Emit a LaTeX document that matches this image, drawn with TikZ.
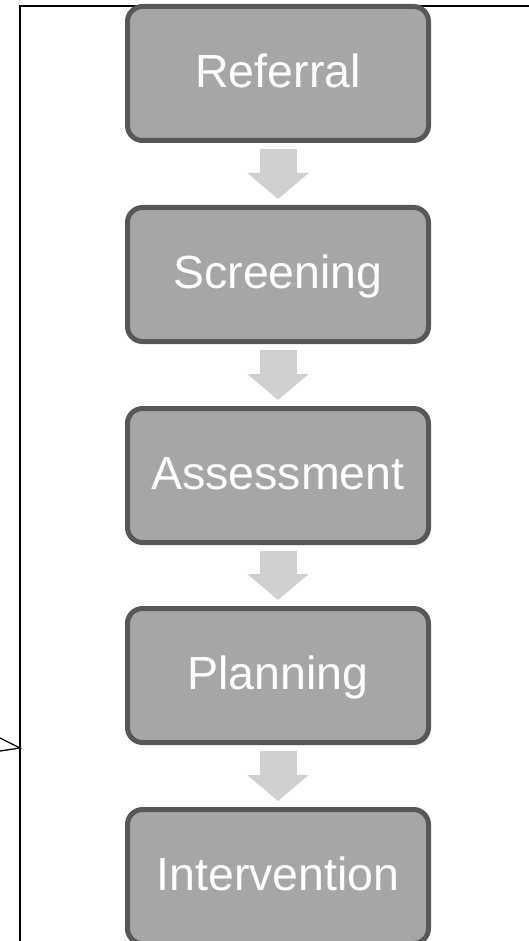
\documentclass[tikz,border=0pt]{standalone}
\usepackage{fontspec}
\setmainfont{Liberation Sans}
\usetikzlibrary{arrows.meta}
\definecolor{boxfill}{HTML}{A6A6A6}
\definecolor{boxline}{HTML}{575757}
\definecolor{arrowgray}{HTML}{D0D0D0}
\tikzset{
  stepbox/.style={draw=boxline, fill=boxfill, line width=5pt, rounded corners=15pt,
    minimum width=301pt, minimum height=134pt, inner sep=0pt,
    text=white, font=\fontsize{46.5}{50}\selectfont, text height=40pt, text depth=12pt},
  flowarrow/.style={draw=arrowgray, line width=37pt,
    -{Triangle[width=60pt,length=26pt]}, shorten <=6pt, shorten >=6pt},
  framestyle/.style={draw=black, line width=1.6pt},
}
\begin{document}
\begin{tikzpicture}[x=1pt,y=-1pt]
\useasboundingbox (0,0) rectangle (529,941);
\clip (0,0) rectangle (529,941);
\draw[framestyle] (529,6) -- (20,6) -- (20,945);
\draw[line width=1.3pt] (0,738) -- (20,748) -- (0,751);
\node[stepbox] (b1) at (278,73.5) {Referral};
\node[stepbox] (b2) at (278,274.5) {Screening};
\node[stepbox] (b3) at (278,475.5) {Assessment};
\node[stepbox] (b4) at (278,675.5) {Planning};
\node[stepbox] (b5) at (278,876.5) {Intervention};
\draw[flowarrow] (b1.south) -- (b2.north);
\draw[flowarrow] (b2.south) -- (b3.north);
\draw[flowarrow] (b3.south) -- (b4.north);
\draw[flowarrow] (b4.south) -- (b5.north);
\end{tikzpicture}
\end{document}
